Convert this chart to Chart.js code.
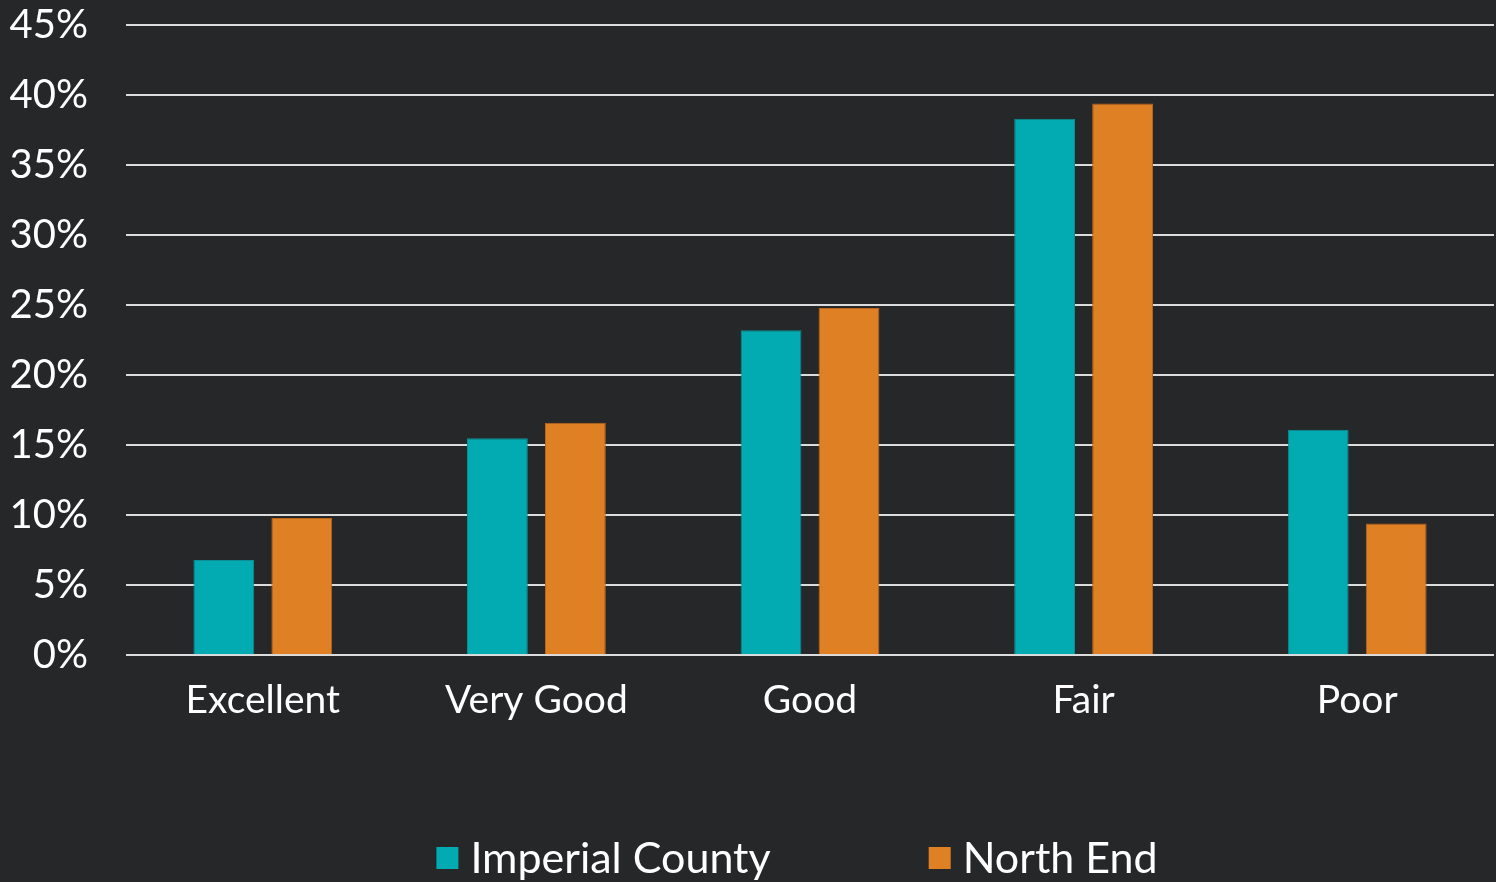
<!DOCTYPE html>
<html>
<head>
<meta charset="utf-8">
<script src="https://cdn.jsdelivr.net/npm/chart.js@4.4.1/dist/chart.umd.min.js"></script>
<style>
  html, body { margin: 0; padding: 0; background: #262729; }
  #wrap { width: 1496px; height: 882px; position: relative; }
</style>
</head>
<body>
<div id="wrap"><canvas id="c" width="1496" height="882"></canvas></div>
<script>
const categories = ["Excellent", "Very Good", "Good", "Fair", "Poor"];
const imperialCounty = [6.8, 15.5, 23.2, 38.3, 16.1];
const northEnd = [9.8, 16.6, 24.8, 39.4, 9.4];
const seriesNames = ["Imperial County", "North End"];
const yTicks = [0, 5, 10, 15, 20, 25, 30, 35, 40, 45];

const FONT = "Lato, 'Open Sans', sans-serif";
const TEAL = "#02AAB1";
const ORANGE = "#E08025";

const customLegend = {
  id: "customLegend",
  afterDraw(chart) {
    const ctx = chart.ctx;
    ctx.save();
    ctx.font = "43px " + FONT;
    ctx.textBaseline = "alphabetic";
    ctx.fillStyle = "#ffffff";
    const box = 22, gapText = 12, gapItem = 158;
    const items = chart.data.datasets.map(d => ({ text: d.label, color: d.backgroundColor }));
    let total = 0;
    items.forEach((it, i) => {
      it.w = ctx.measureText(it.text).width;
      total += box + gapText + it.w + (i < items.length - 1 ? gapItem : 0);
    });
    let x = 797 - total / 2;
    const baseline = 873;
    items.forEach(it => {
      ctx.fillStyle = it.color;
      ctx.fillRect(x, 847, box, box);
      x += box + gapText;
      ctx.fillStyle = "#ffffff";
      ctx.fillText(it.text, x, baseline);
      x += it.w + gapItem;
    });
    ctx.restore();
  }
};

new Chart(document.getElementById("c"), {
  type: "bar",
  data: {
    labels: categories,
    datasets: [
      { label: seriesNames[0], data: imperialCounty, backgroundColor: TEAL, borderColor: "#0B8F95", borderWidth: 1 },
      { label: seriesNames[1], data: northEnd, backgroundColor: ORANGE, borderColor: "#B8661C", borderWidth: 1 }
    ]
  },
  options: {
    responsive: false,
    animation: false,
    devicePixelRatio: 1,
    layout: { padding: { left: 0, right: 2, top: 0, bottom: 144 } },
    datasets: { bar: { categoryPercentage: 0.57, barPercentage: 0.78 } },
    plugins: {
      legend: { display: false },
      tooltip: { enabled: false }
    },
    scales: {
      x: {
        grid: { display: false },
        border: { display: false },
        ticks: { color: "#ffffff", font: { family: FONT, size: 39 }, padding: 14 }
      },
      y: {
        min: 0, max: 45,
        afterBuildTicks(scale) { scale.ticks = yTicks.map(v => ({ value: v })); },
        afterFit(scale) { scale.width = 126; scale.paddingTop = 25; scale.paddingBottom = 0; },
        grid: { color: "#dcdcdc", lineWidth: 2, drawTicks: false },
        border: { display: false },
        ticks: { color: "#ffffff", font: { family: FONT, size: 40 }, padding: 38, callback: v => v + "%" }
      }
    }
  },
  plugins: [customLegend]
});
</script>
</body>
</html>
